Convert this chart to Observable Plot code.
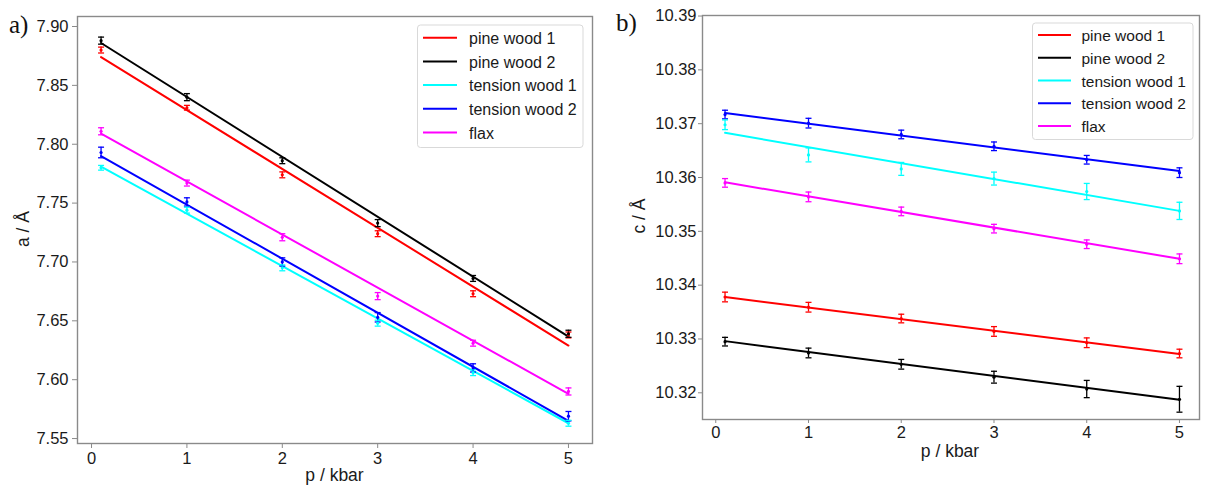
<!DOCTYPE html>
<html><head><meta charset="utf-8">
<script src="https://cdn.jsdelivr.net/npm/d3@7"></script>
<script src="https://cdn.jsdelivr.net/npm/@observablehq/plot@0.6"></script>
<style>
body{margin:0;background:#fff;}
#wrap{position:relative;width:1206px;height:488px;overflow:hidden;background:#fff;}
.panel{position:absolute;top:0}
#ov{position:absolute;left:0;top:0;pointer-events:none}
</style></head><body>
<div id="wrap">
  <div id="pa" class="panel" style="left:0"></div>
  <div id="pb" class="panel" style="left:600px"></div>
  <svg id="ov" width="1206" height="488"></svg>
</div>
<script>
// ---------- data ----------
const series = ["pine wood 1", "pine wood 2", "tension wood 1", "tension wood 2", "flax"];
const colors = ["#ff0000", "#000000", "#00ffff", "#0000ff", "#ff00ff"];
const pressure = [0.1, 1, 2, 3, 4, 5];      // p / kbar
const fitP = [0.1, 5];                        // fit line end points (p)
const pTicks = [0, 1, 2, 3, 4, 5];
const aTicks = [7.55, 7.60, 7.65, 7.70, 7.75, 7.80, 7.85, 7.90];
const cTicks = [10.32, 10.33, 10.34, 10.35, 10.36, 10.37, 10.38, 10.39];

// panel a: a / Å
const aPine1    = [7.880, 7.831, 7.774, 7.724, 7.673, 7.638];
const aPine2    = [7.888, 7.840, 7.786, 7.733, 7.686, 7.639];
const aTension1 = [7.780, 7.744, 7.695, 7.648, 7.606, 7.563];
const aTension2 = [7.793, 7.751, 7.700, 7.653, 7.610, 7.569];
const aFlax     = [7.811, 7.767, 7.721, 7.671, 7.631, 7.590];
const aErrPine1    = [0.0025, 0.002, 0.0025, 0.0025, 0.0025, 0.0025];
const aErrPine2    = [0.003, 0.003, 0.0025, 0.003, 0.0025, 0.003];
const aErrTension1 = [0.002, 0.0025, 0.0025, 0.0025, 0.0025, 0.0025];
const aErrTension2 = [0.0045, 0.0035, 0.0035, 0.004, 0.0035, 0.004];
const aErrFlax     = [0.003, 0.0025, 0.003, 0.003, 0.0025, 0.003];
const aFitPine1    = [7.874, 7.629];
const aFitPine2    = [7.886, 7.6366];
const aFitTension1 = [7.781, 7.563];
const aFitTension2 = [7.790, 7.565];
const aFitFlax     = [7.809, 7.588];

// panel b: c / Å
const cPine1    = [10.3378, 10.3359, 10.3338, 10.3314, 10.3293, 10.3273];
const cPine2    = [10.3295, 10.3274, 10.3253, 10.3229, 10.3207, 10.3188];
const cTension1 = [10.3698, 10.3642, 10.3616, 10.3598, 10.3574, 10.3538];
const cTension2 = [10.3717, 10.3701, 10.3680, 10.3658, 10.3633, 10.3609];
const cFlax     = [10.3590, 10.3564, 10.3537, 10.3505, 10.3476, 10.3449];
const cErrPine1    = [0.0009, 0.0009, 0.0008, 0.0009, 0.0009, 0.0008];
const cErrPine2    = [0.0008, 0.0009, 0.0009, 0.0011, 0.0016, 0.0024];
const cErrTension1 = [0.0009, 0.0013, 0.0012, 0.0012, 0.0015, 0.0016];
const cErrTension2 = [0.0008, 0.0009, 0.0008, 0.0008, 0.0008, 0.0009];
const cErrFlax     = [0.0008, 0.0009, 0.0008, 0.0008, 0.0008, 0.0009];
const cFitPine1    = [10.3378, 10.3272];
const cFitPine2    = [10.3296, 10.3187];
const cFitTension1 = [10.3683, 10.3538];
const cFitTension2 = [10.3720, 10.3612];
const cFitFlax     = [10.3591, 10.3449];

// ---------- build tables ----------
function buildRows(vals, errs) {
  return series.flatMap((s, k) => pressure.map((p, i) => ({
    s, p, v: vals[k][i], lo: vals[k][i] - errs[k][i], hi: vals[k][i] + errs[k][i]
  })));
}
function buildFit(fits) {
  return series.flatMap((s, k) => fitP.map((p, i) => ({s, p, v: fits[k][i]})));
}
const aRows = buildRows([aPine1, aPine2, aTension1, aTension2, aFlax],
                        [aErrPine1, aErrPine2, aErrTension1, aErrTension2, aErrFlax]);
const aFit = buildFit([aFitPine1, aFitPine2, aFitTension1, aFitTension2, aFitFlax]);
const cRows = buildRows([cPine1, cPine2, cTension1, cTension2, cFlax],
                        [cErrPine1, cErrPine2, cErrTension1, cErrTension2, cErrFlax]);
const cFit = buildFit([cFitPine1, cFitPine2, cFitTension1, cFitTension2, cFitFlax]);

const capSymbol = {draw(ctx, size) { const w = Math.sqrt(size / Math.PI); ctx.moveTo(-w, 0); ctx.lineTo(w, 0); }};

function panel(o) {
  return Plot.plot({
    width: o.width, height: o.height,
    marginLeft: o.ml, marginRight: o.mr, marginTop: o.mt, marginBottom: o.mb,
    style: {fontFamily: '"Liberation Sans", Arial, sans-serif', fontSize: o.fs, color: "#1a1a1a", background: "transparent", overflow: "visible"},
    x: {domain: o.xDomain},
    y: {domain: o.yDomain},
    color: {domain: series, range: colors},
    marks: [
      Plot.frame({stroke: "#8a8a8a", strokeWidth: 1.4}),
      Plot.axisY({ticks: o.yTicks, tickFormat: d3.format(".2f"), tickSize: o.yts, tickPadding: o.ytp, stroke: "#8a8a8a", label: null}),
      Plot.axisX({ticks: pTicks, tickFormat: d3.format("d"), tickSize: o.xts, tickPadding: o.xtp, stroke: "#8a8a8a", label: null}),
      Plot.line(o.fit, {x: "p", y: "v", z: "s", stroke: "s", strokeWidth: 2}),
      Plot.ruleX(o.rows, {x: "p", y1: "lo", y2: "hi", stroke: "s", strokeWidth: 1.3}),
      Plot.dot(o.rows, {x: "p", y: "lo", stroke: "s", fill: "none", symbol: capSymbol, r: 3, strokeWidth: 1.3}),
      Plot.dot(o.rows, {x: "p", y: "hi", stroke: "s", fill: "none", symbol: capSymbol, r: 3, strokeWidth: 1.3}),
      Plot.dot(o.rows, {x: "p", y: "v", fill: "s", r: 1.6})
    ]
  });
}

document.getElementById("pa").append(panel({
  width: 600, height: 488, ml: 77, mr: 8, mt: 16, mb: 45, fs: "16.5px",
  xDomain: [-0.147, 5.252], yDomain: [7.5458, 7.9085], yTicks: aTicks,
  yts: 5, ytp: 4, xts: 5, xtp: 4, rows: aRows, fit: aFit
}));
document.getElementById("pb").append(panel({
  width: 606, height: 488, ml: 102, mr: 7, mt: 15, mb: 69, fs: "16.5px",
  xDomain: [-0.143, 5.216], yDomain: [10.31504, 10.3901], yTicks: cTicks,
  yts: 4, ytp: 2, xts: 4, xtp: 3, rows: cRows, fit: cFit
}));

// ---------- overlay: panel labels, axis labels, legends ----------
const ov = d3.select("#ov");
const sans = '"Liberation Sans", Arial, sans-serif';
const serif = '"Liberation Serif", "Times New Roman", serif';
ov.append("text").attr("x", 9).attr("y", 33).attr("font-family", serif).attr("font-size", 25).attr("fill", "#111").text("a)");
ov.append("text").attr("x", 616).attr("y", 31).attr("font-family", serif).attr("font-size", 25).attr("fill", "#111").text("b)");
ov.append("text").attr("x", 334.5).attr("y", 481).attr("text-anchor", "middle").attr("font-family", sans).attr("font-size", 17.5).attr("fill", "#1a1a1a").text("p / kbar");
ov.append("text").attr("x", 950).attr("y", 457).attr("text-anchor", "middle").attr("font-family", sans).attr("font-size", 17.5).attr("fill", "#1a1a1a").text("p / kbar");
ov.append("text").attr("transform", "translate(29,229) rotate(-90)").attr("text-anchor", "middle").attr("font-family", sans).attr("font-size", 17.5).attr("fill", "#1a1a1a").text("a / Å");
ov.append("text").attr("transform", "translate(645,216) rotate(-90)").attr("text-anchor", "middle").attr("font-family", sans).attr("font-size", 17.5).attr("fill", "#1a1a1a").text("c / Å");

function legend(box, fs, hx1, hx2, tx, y0, dy) {
  const g = ov.append("g");
  g.append("rect").attr("x", box[0]).attr("y", box[1]).attr("width", box[2]).attr("height", box[3])
    .attr("rx", 3).attr("fill", "white").attr("fill-opacity", 0.85).attr("stroke", "#d9d9d9").attr("stroke-width", 1);
  series.forEach((s, i) => {
    const y = y0 + i * dy;
    g.append("line").attr("x1", hx1).attr("x2", hx2).attr("y1", y).attr("y2", y).attr("stroke", colors[i]).attr("stroke-width", 2);
    g.append("text").attr("x", tx).attr("y", y + 6.2).attr("font-family", sans).attr("font-size", fs).attr("fill", "#1a1a1a").text(s);
  });
}
legend([417.5, 25, 165.5, 122.5], 16, 423, 457, 469, 37.7, 23.7);
legend([1032.5, 23, 160.5, 116.5], 15.5, 1038, 1071, 1081.5, 35, 22.75);
</script>
</body></html>
